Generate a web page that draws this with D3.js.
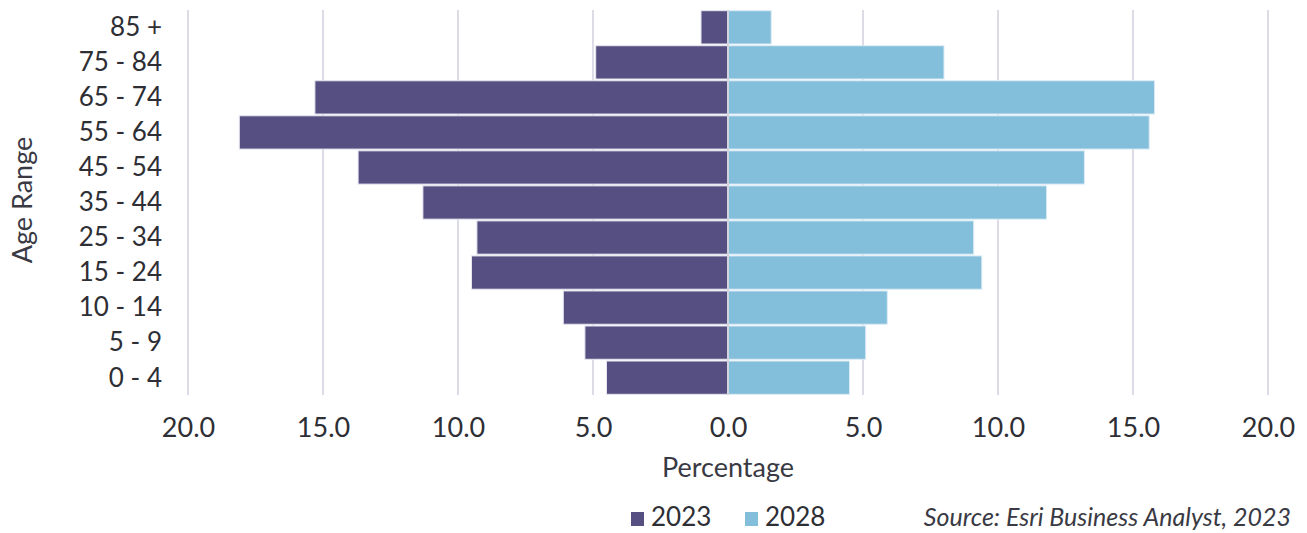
<!DOCTYPE html>
<html>
<head>
<meta charset="utf-8">
<script src="https://cdn.jsdelivr.net/npm/d3@7"></script>
<style>
  body { margin: 0; background: #fff; }
  svg { display: block; font-family: Lato, 'Open Sans', sans-serif; }
  .tick text { fill: #2e2e35; }
</style>
</head>
<body>
<div id="app"></div>
<script>
// age groups, top to bottom
const ageGroups = ['85 +', '75 - 84', '65 - 74', '55 - 64', '45 - 54', '35 - 44',
  '25 - 34', '15 - 24', '10 - 14', '5 - 9', '0 - 4'];

// percent of population by age group
const pct2023 = [1.0, 4.9, 15.3, 18.1, 13.7, 11.3, 9.3, 9.5, 6.1, 5.3, 4.5];
const pct2028 = [1.6, 8.0, 15.8, 15.6, 13.2, 11.8, 9.1, 9.4, 5.9, 5.1, 4.5];

const xTicks = [-20, -15, -10, -5, 0, 5, 10, 15, 20];

const seriesNames = ['2023', '2028'];
const colors = { '2023': '#564f82', '2028': '#83bedb' };

const W = 1307, H = 533;

const svg = d3.select('#app').append('svg')
  .attr('width', W)
  .attr('height', H);

const x = d3.scaleLinear()
  .domain([-20, 20])
  .range([188, 1268]);

const y = d3.scaleBand()
  .domain(ageGroups)
  .range([10, 395])
  .paddingInner(0.05)
  .paddingOuter(0.02);

// vertical gridlines behind bars
svg.append('g')
  .selectAll('line')
  .data(xTicks.filter(d => d !== 0))
  .enter()
  .append('line')
  .attr('x1', d => x(d))
  .attr('x2', d => x(d))
  .attr('y1', 10)
  .attr('y2', 395)
  .attr('stroke', '#dcdce6')
  .attr('stroke-width', 2);

const rows = ageGroups.map((g, i) => ({ group: g, a: pct2023[i], b: pct2028[i] }));

// 2023 to the left
svg.append('g')
  .selectAll('rect')
  .data(rows)
  .enter()
  .append('rect')
  .attr('x', d => x(-d.a))
  .attr('y', d => y(d.group))
  .attr('width', d => x(0) - x(-d.a))
  .attr('height', y.bandwidth())
  .attr('fill', colors['2023'])
  .attr('stroke', '#e6e6ef')
  .attr('stroke-width', 1);

// 2028 to the right
svg.append('g')
  .selectAll('rect')
  .data(rows)
  .enter()
  .append('rect')
  .attr('x', x(0))
  .attr('y', d => y(d.group))
  .attr('width', d => x(d.b) - x(0))
  .attr('height', y.bandwidth())
  .attr('fill', colors['2028'])
  .attr('stroke', '#dcecf5')
  .attr('stroke-width', 1);

// zero line
svg.append('line')
  .attr('x1', x(0)).attr('x2', x(0))
  .attr('y1', 10).attr('y2', 395)
  .attr('stroke', '#d4d4de')
  .attr('stroke-width', 2);

// y axis labels
const yAxis = d3.axisLeft(y).tickSize(0).tickPadding(0);
const gy = svg.append('g')
  .attr('transform', 'translate(162,0)')
  .call(yAxis);
gy.select('.domain').remove();
gy.selectAll('text')
  .style('font-size', '26px')
  .style('font-family', 'Lato, sans-serif')
  .attr('dy', '0.34em');

// x axis labels, absolute values
const xAxis = d3.axisBottom(x)
  .tickValues(xTicks)
  .tickSize(0)
  .tickPadding(0)
  .tickFormat(d => d3.format('.1f')(Math.abs(d)));
const gx = svg.append('g')
  .attr('transform', 'translate(0,418)')
  .call(xAxis);
gx.select('.domain').remove();
gx.selectAll('text')
  .style('font-size', '27px')
  .style('font-family', 'Lato, sans-serif')
  .attr('dy', '0.72em');

// axis titles
svg.append('text')
  .attr('x', x(0))
  .attr('y', 477)
  .attr('text-anchor', 'middle')
  .style('font-size', '27px')
  .attr('fill', '#3a3a44')
  .text('Percentage');

svg.append('text')
  .attr('transform', 'translate(32,200) rotate(-90)')
  .attr('text-anchor', 'middle')
  .style('font-size', '27px')
  .attr('fill', '#3a3a44')
  .text('Age Range');

// legend
const legend = svg.append('g')
  .selectAll('g')
  .data(seriesNames)
  .enter()
  .append('g')
  .attr('transform', (d, i) => 'translate(' + (631 + i * 114) + ',0)');

legend.append('rect')
  .attr('x', 0)
  .attr('y', 512)
  .attr('width', 13)
  .attr('height', 14)
  .attr('fill', d => colors[d]);

legend.append('text')
  .attr('x', 20)
  .attr('y', 526)
  .style('font-size', '26px')
  .attr('fill', '#2e2e35')
  .text(d => d);

// source note
svg.append('text')
  .attr('x', 1291)
  .attr('y', 526)
  .attr('text-anchor', 'end')
  .style('font-size', '25px')
  .style('font-style', 'italic')
  .attr('fill', '#3a3a44')
  .text('Source: Esri Business Analyst, 2023');
</script>
</body>
</html>
